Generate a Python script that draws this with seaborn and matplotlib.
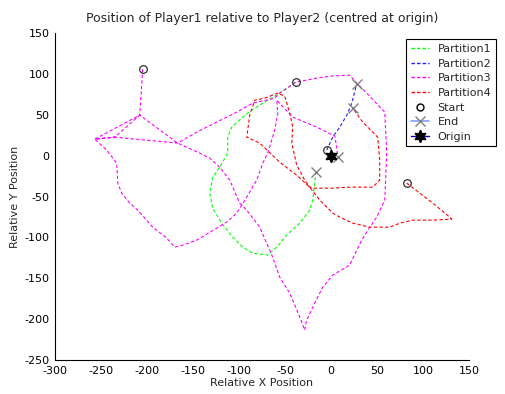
import numpy as np
import pandas as pd
import matplotlib
matplotlib.use("Agg")
import matplotlib.pyplot as plt
from matplotlib.lines import Line2D
import seaborn as sns

# Relative trajectory of Player1 around Player2, split into four partitions
p1_x = [-38.4, -59.0, -74.2, -86.2, -96.0, -107.9, -112.3, -112.3, -121.0, -128.6,
        -131.8, -128.6, -118.8, -106.8, -96.0, -85.1, -68.8, -59.0, -48.2, -34.0,
        -23.2, -19.9, -17.7, -16.6]
p1_y = [89.9, 74.0, 64.2, 55.7, 47.1, 34.9, 22.6, 3.1, -14.1, -26.3,
        -45.9, -64.2, -82.6, -99.7, -111.9, -119.3, -121.7, -111.9, -97.2, -82.6,
        -66.7, -54.4, -33.6, -20.2]

p2_x = [-4.7, 1.8, 9.5, 17.1, 22.5, 27.9]
p2_y = [6.7, 22.6, 34.9, 49.5, 64.2, 87.5]

p3_x = [-204.7, -207.9, -166.6, -142.7, -131.8, -121.0, -110.1, -99.2, -91.6, -77.5,
        -63.4, -55.8, -44.9, -34.0, -28.6, -26.4, -17.7, -9.0, 1.8, 20.3,
        27.9, 33.4, 42.1, 49.7, 58.4, 60.5, 58.4, 38.8, 27.9, 20.3,
        -1.4, -15.5, -38.4, -55.8, -61.2, -85.1, -102.5, -124.2, -146.0, -166.6,
        -235.1, -207.9, -256.8, -235.1, -256.8, -243.8, -232.9, -231.8, -227.5, -218.8,
        -210.1, -193.8, -178.6, -169.9, -161.2, -146.0, -124.2, -113.4, -102.5, -91.6,
        -80.8, -74.2, -68.8, -61.2, -57.9, -59.0, -41.6, -15.5, 4.0, 6.2,
        7.3]
p3_y = [105.8, 49.5, 15.3, 3.1, -3.1, -14.1, -30.0, -58.1, -66.7, -87.5,
        -124.2, -148.6, -168.2, -197.6, -213.5, -201.2, -180.4, -160.9, -146.2, -133.9,
        -115.6, -103.4, -87.5, -75.2, -54.4, 3.1, 53.2, 76.5, 88.7, 98.5,
        97.2, 94.8, 89.9, 76.5, 70.3, 64.2, 53.2, 41.0, 28.7, 15.3,
        22.6, 49.5, 20.2, 22.6, 20.2, 6.7, -9.2, -33.6, -45.9, -58.1,
        -66.7, -87.5, -100.9, -111.9, -109.5, -103.4, -88.7, -81.3, -70.3, -50.8,
        -30.0, -9.2, 3.1, 31.2, 52.0, 67.9, 47.1, 34.9, 23.9, 10.4,
        -1.8]

p4_x = [82.3, 96.4, 110.5, 129.0, 131.2, 110.5, 88.8, 74.7, 63.8, 42.1,
        23.6, 9.5, 1.8, -12.3, -23.2, -37.3, -55.8, -77.5, -91.6, -88.4,
        -82.9, -72.1, -57.9, -50.3, -44.9, -41.6, -42.7, -37.3, -28.6, -23.2,
        -17.7, 1.8, 20.3, 45.3, 52.9, 52.9, 50.7, 34.4, 23.6]
p4_y = [-33.6, -45.9, -58.1, -75.2, -77.7, -78.9, -78.9, -82.6, -87.5, -87.5,
        -82.6, -75.2, -70.3, -54.4, -38.5, -23.9, -8.0, 15.3, 22.6, 49.5,
        67.9, 70.3, 76.5, 72.8, 52.0, 34.9, 15.3, -11.6, -30.0, -38.5,
        -39.8, -39.8, -38.5, -38.5, -30.0, -5.5, 22.6, 41.0, 58.1]

partition_names = ["Partition1", "Partition2", "Partition3", "Partition4"]
partition_colors = ["#00ff00", "#2020ff", "#ff00ff", "#ff0000"]

sns.set_style("white")
plt.rcParams["font.family"] = ["DejaVu Sans"]
plt.rcParams["axes.unicode_minus"] = False
plt.rcParams["xtick.direction"] = "in"
plt.rcParams["ytick.direction"] = "in"

fig = plt.figure(figsize=(5.06, 3.94), dpi=100)
ax = fig.add_axes([0.1087, 0.0863, 0.8183, 0.8299])

dash = (0, (3, 2))
series = [(p1_x, p1_y), (p2_x, p2_y), (p3_x, p3_y), (p4_x, p4_y)]
for (xs, ys), name, col in zip(series, partition_names, partition_colors):
    df = pd.DataFrame({"x": xs, "y": ys})
    sns.lineplot(data=df, x="x", y="y", sort=False, estimator=None, ax=ax,
                 color=col, linewidth=0.8, linestyle=dash)

# Start and end of each partition
for xs, ys in series:
    ax.plot(xs[0], ys[0], marker="o", markersize=5.5, markerfacecolor="none",
            markeredgecolor="#303030", markeredgewidth=0.9, linestyle="none")
    ax.plot(xs[-1], ys[-1], marker="x", markersize=7, color="#808080",
            markeredgewidth=1.0, linestyle="none")

# Player2 at the origin (six-pointed star)
star6 = (6, 1, 0)
ax.plot(0, 0, marker=star6, markersize=9, color="black", linestyle="none")

ax.set_xlim(-300, 150)
ax.set_ylim(-250, 150)
ax.set_xticks(np.arange(-300, 151, 50))
ax.set_yticks(np.arange(-250, 151, 50))
ax.tick_params(axis="both", labelsize=8, length=4, width=0.8, colors="black",
               direction="in", pad=4)
for side in ["top", "right"]:
    ax.spines[side].set_visible(False)
for side in ["left", "bottom"]:
    ax.spines[side].set_color("black")
    ax.spines[side].set_linewidth(0.8)

ax.set_xlabel("Relative X Position", fontsize=8, labelpad=2)
ax.set_ylabel("Relative Y Position", fontsize=8, labelpad=3)
ax.set_title("Position of Player1 relative to Player2 (centred at origin)",
             fontsize=9, pad=8)

handles = [Line2D([], [], color=c, linewidth=1.0, linestyle="--", dashes=(2.5, 1.5))
           for c in partition_colors]
handles.append(Line2D([], [], marker="o", markersize=5, markerfacecolor="none",
                      markeredgecolor="black", linestyle="none"))
handles.append(Line2D([], [], color="#7f9fff", linewidth=1.2, marker="x",
                      markersize=7, markeredgecolor="#808080"))
handles.append(Line2D([], [], color="#0000cc", linewidth=1.0, marker=star6,
                      markersize=9, markerfacecolor="black", markeredgecolor="black"))
labels = partition_names + ["Start", "End", "Origin"]
leg = fig.legend(handles, labels, loc="upper left", bbox_to_anchor=(0.803, 0.9),
                 fontsize=8, frameon=True, fancybox=False, framealpha=1,
                 edgecolor="black", handlelength=1.6, handletextpad=0.8,
                 labelspacing=0.42, borderpad=0.4, borderaxespad=0)
leg.get_frame().set_linewidth(0.8)

fig.savefig("out.png", dpi=100)
